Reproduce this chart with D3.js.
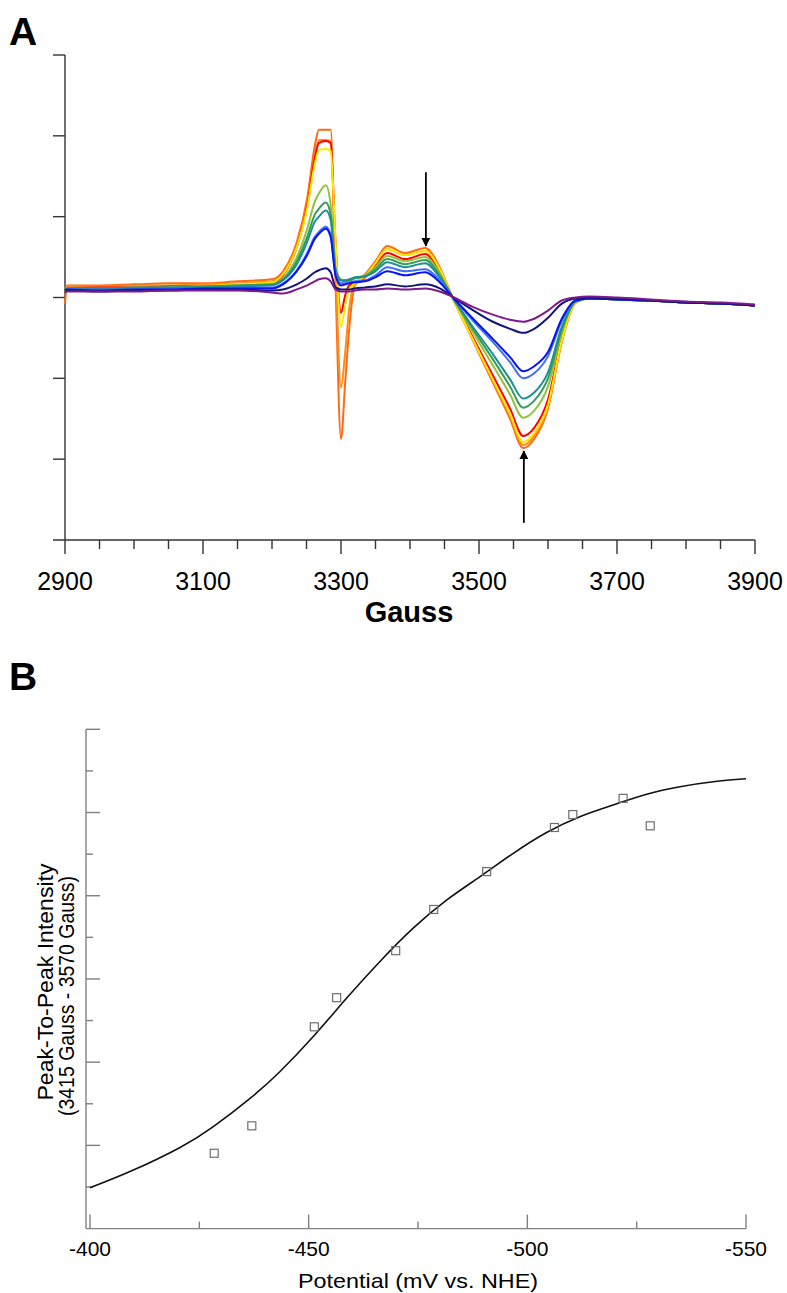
<!DOCTYPE html>
<html>
<head>
<meta charset="utf-8">
<script src="https://cdn.jsdelivr.net/npm/d3@7"></script>
<style>
  body { margin: 0; background: #fff; }
  svg { display: block; font-family: "Liberation Sans", Arial, sans-serif; }
</style>
</head>
<body>
<div id="chart"></div>
<script>
// ---- Panel A: EPR spectra (field in Gauss, intensity in arbitrary units) ----
const gauss = [2900, 2903, 2950, 3000, 3050, 3100, 3150, 3200, 3216, 3236, 3251, 3262, 3268, 3278, 3285, 3292,
    3300, 3306, 3312, 3320, 3335, 3350, 3367, 3393, 3422, 3443, 3461, 3490, 3520, 3545, 3564, 3580, 3600, 3620,
    3640, 3660, 3700, 3750, 3800, 3850, 3900];

const orange1 = [-6, 12, 12, 13, 14, 14, 16, 18, 26, 55, 98, 150, 166, 166, 166, 15, -140, -85, -30, 12, 23, 36, 51, 44, 49, 30, 1, -41, -84, -120, -149, -140, -110, -44, -5, 0, -2, -3, -5, -6, -8];
const orange2 = [8, 11, 11, 12, 12, 13, 14, 16, 24, 52, 92, 140, 156, 156, 155, 33, -89, -55, -10, 13, 22, 34, 48, 42, 46, 28, 1, -40, -82, -117, -146, -137, -108, -43, -5, -1, -2, -3, -5, -6, -8];
const red = [7, 9, 10, 10, 11, 11, 12, 13, 22, 50, 90, 138, 153, 155, 153, 55, -15, 2, 12, 14, 20, 32, 44, 38, 43, 26, 1, -38, -77, -110, -137, -129, -101, -40, -5, -1, -2, -3, -5, -6, -8];
const yellow = [6, 8, 7, 9, 10, 11, 13, 15, 23, 50, 88, 132, 146, 147, 145, 57, -29, -8, 8, 14, 21, 34, 48, 42, 46, 28, 1, -40, -81, -115, -143, -134, -106, -42, -5, -1, -2, -3, -5, -6, -8];
const yellowGreen = [8, 9, 9, 10, 10, 11, 12, 13, 19, 40, 68, 95, 103, 111, 92, 30, 18, 17, 17, 19, 22, 30, 41, 36, 40, 24, 1, -33, -67, -96, -119, -112, -88, -35, -4, -1, -2, -3, -5, -6, -8];
const green = [8, 9, 9, 10, 10, 11, 12, 13, 18, 36, 60, 82, 88, 94, 82, 28, 17, 16, 17, 19, 21, 28, 38, 33, 37, 22, 1, -30, -61, -88, -109, -102, -80, -32, -4, -1, -2, -3, -5, -6, -8];
const teal = [8, 9, 9, 9, 10, 10, 11, 12, 17, 33, 55, 75, 80, 86, 77, 27, 17, 17, 18, 20, 21, 26, 35, 30, 34, 20, 1, -28, -56, -81, -100, -94, -74, -29, -4, -1, -2, -3, -5, -6, -8];
const lightBlue = [7, 8, 8, 8, 9, 9, 10, 10, 14, 27, 44, 60, 65, 70, 62, 24, 14, 14, 15, 16, 17, 22, 30, 26, 28, 17, 1, -22, -44, -64, -80, -75, -58, -23, -3, -1, -2, -3, -5, -6, -8];
const blue = [7, 8, 7, 8, 8, 9, 9, 9, 13, 26, 42, 58, 63, 68, 60, 22, 12, 13, 14, 15, 16, 20, 26, 22, 25, 15, 1, -20, -41, -59, -73, -68, -54, -21, -3, -1, -2, -3, -5, -6, -8];
const navy = [6, 7, 6, 7, 7, 8, 8, 7, 8, 13, 19, 25, 27, 29, 25, 10, 8, 8, 8, 9, 10, 11, 13, 11, 13, 9, 1, -12, -24, -31, -35, -31, -20, -6, -1, 0, -1, -3, -5, -6, -8];
const purple = [5, 6, 6, 6, 7, 7, 7, 5, 4, 8, 12, 16, 18, 19, 16, 8, 6, 6, 6, 7, 8, 8, 9, 8, 9, 6, 1, -9, -17, -22, -24, -21, -13, -3, 0, 1, 0, -2, -4, -5, -7];

const gaussTicks = [2900, 3100, 3300, 3500, 3700, 3900];
// arrows: [field, start, tip]
const arrowDown = [3423, 124, 51];
const arrowUp = [3565, -223, -152];

// ---- Panel B: peak-to-peak intensity vs potential ----
const potential = [-428.4, -437.0, -451.3, -456.4, -469.9, -478.6, -490.7, -506.2, -510.4, -521.9, -528.1];
const intensity = [1.81, 2.47, 4.85, 5.55, 6.68, 7.67, 8.58, 9.64, 9.95, 10.34, 9.68];
const fitPotential = [-400.0, -409.8, -420.6, -428.2, -436.6, -443.4, -451.0, -458.7, -466.3, -473.9, -481.6,
    -489.2, -496.8, -504.4, -512.0, -519.6, -527.3, -534.9, -542.5, -550.0];
const fitIntensity = [0.98, 1.40, 1.95, 2.45, 3.13, 3.77, 4.61, 5.54, 6.42, 7.22, 7.90,
    8.46, 9.02, 9.52, 9.90, 10.18, 10.44, 10.62, 10.74, 10.81];
const potentialTicks = [-400, -450, -500, -550];

const traces = [
    { color: "#ff6a13", values: orange1 },
    { color: "#ff8c1a", values: orange2 },
    { color: "#ff0000", values: red },
    { color: "#ffea00", values: yellow },
    { color: "#8fc43a", values: yellowGreen },
    { color: "#379a5c", values: green },
    { color: "#1d9191", values: teal },
    { color: "#3d6dff", values: lightBlue },
    { color: "#0a14ee", values: blue },
    { color: "#14147f", values: navy },
    { color: "#7d1a8c", values: purple }
];

const svg = d3.select("#chart").append("svg")
    .attr("width", 787)
    .attr("height", 1293);

svg.append("defs").append("marker")
    .attr("id", "head")
    .attr("viewBox", "0 0 10 10")
    .attr("refX", 9).attr("refY", 5)
    .attr("markerWidth", 5).attr("markerHeight", 5)
    .attr("markerUnits", "strokeWidth")
    .attr("orient", "auto")
    .append("path")
    .attr("d", "M0,0 L10,5 L0,10 z")
    .attr("fill", "#000");

// ===== Panel A =====
const xA = d3.scaleLinear().domain([2900, 3900]).range([65, 755]);
const yA = d3.scaleLinear().domain([-240, 240]).range([540, 55]);

svg.append("text")
    .attr("x", 9).attr("y", 45)
    .attr("font-size", 39).attr("font-weight", "bold")
    .text("A");

const gA = svg.append("g");

// y axis: unlabeled ticks pointing left
gA.append("line")
    .attr("x1", 65).attr("x2", 65).attr("y1", yA(240)).attr("y2", yA(-240))
    .attr("stroke", "#333").attr("stroke-width", 1.4);
gA.selectAll(".ytick")
    .data(d3.range(-160, 241, 80))
    .join("line")
    .attr("x1", 53).attr("x2", 65)
    .attr("y1", d => yA(d)).attr("y2", d => yA(d))
    .attr("stroke", "#333").attr("stroke-width", 1.4);

// x axis with minor ticks every 50 G
gA.append("line")
    .attr("x1", 53).attr("x2", xA(3900)).attr("y1", 540).attr("y2", 540)
    .attr("stroke", "#333").attr("stroke-width", 1.4);
gA.selectAll(".xtick")
    .data(d3.range(2900, 3901, 50))
    .join("line")
    .attr("x1", d => xA(d)).attr("x2", d => xA(d))
    .attr("y1", 540).attr("y2", d => gaussTicks.includes(d) ? 554 : 549)
    .attr("stroke", "#333").attr("stroke-width", 1.4);
gA.selectAll(".xlabel")
    .data(gaussTicks)
    .join("text")
    .attr("x", d => xA(d)).attr("y", 590)
    .attr("text-anchor", "middle")
    .attr("font-size", 25)
    .text(d => d);
gA.append("text")
    .attr("x", 409).attr("y", 622)
    .attr("text-anchor", "middle")
    .attr("font-size", 29).attr("font-weight", "bold")
    .text("Gauss");

const lineA = d3.line()
    .x((d, i) => xA(gauss[i]))
    .y(d => yA(d))
    .curve(d3.curveMonotoneX);

gA.selectAll(".trace")
    .data(traces)
    .join("path")
    .attr("d", d => lineA(d.values))
    .attr("fill", "none")
    .attr("stroke", d => d.color)
    .attr("stroke-width", 2)
    .attr("stroke-linejoin", "round");

// arrows marking the two measured fields
[arrowDown, arrowUp].forEach(a => {
    gA.append("line")
        .attr("x1", xA(a[0])).attr("x2", xA(a[0]))
        .attr("y1", yA(a[1])).attr("y2", yA(a[2]))
        .attr("stroke", "#000").attr("stroke-width", 1.8)
        .attr("marker-end", "url(#head)");
});

// ===== Panel B =====
const xB = d3.scaleLinear().domain([-400, -550]).range([90, 746]);
const yB = d3.scaleLinear().domain([0, 12]).range([1228.6, 729.3]);

svg.append("text")
    .attr("x", 9).attr("y", 690)
    .attr("font-size", 39).attr("font-weight", "bold")
    .text("B");

const gB = svg.append("g");
const axisGrey = "#808080";

gB.append("line")
    .attr("x1", 86).attr("x2", 86).attr("y1", yB(12)).attr("y2", yB(0))
    .attr("stroke", axisGrey).attr("stroke-width", 1.4);
gB.selectAll(".ytickB")
    .data(d3.range(1, 13))
    .join("line")
    .attr("x1", 86).attr("x2", d => d % 2 === 0 ? 100 : 93)
    .attr("y1", d => yB(d)).attr("y2", d => yB(d))
    .attr("stroke", axisGrey).attr("stroke-width", 1.4);

gB.append("line")
    .attr("x1", 86).attr("x2", xB(-550)).attr("y1", yB(0)).attr("y2", yB(0))
    .attr("stroke", axisGrey).attr("stroke-width", 1.4);
gB.selectAll(".xtickB")
    .data(d3.range(-400, -551, -25))
    .join("line")
    .attr("x1", d => xB(d)).attr("x2", d => xB(d))
    .attr("y1", yB(0)).attr("y2", d => d % 50 === 0 ? yB(0) - 14 : yB(0) - 7)
    .attr("stroke", axisGrey).attr("stroke-width", 1.4);
gB.selectAll(".xlabelB")
    .data(potentialTicks)
    .join("text")
    .attr("x", d => xB(d)).attr("y", 1256)
    .attr("text-anchor", "middle")
    .attr("font-size", 21)
    .text(d => d);
gB.append("text")
    .attr("x", 418).attr("y", 1288)
    .attr("text-anchor", "middle")
    .attr("font-size", 21)
    .attr("textLength", 240).attr("lengthAdjust", "spacingAndGlyphs")
    .text("Potential (mV vs. NHE)");

gB.append("text")
    .attr("transform", "translate(53,982) rotate(-90)")
    .attr("text-anchor", "middle")
    .attr("font-size", 22)
    .attr("textLength", 237).attr("lengthAdjust", "spacingAndGlyphs")
    .text("Peak-To-Peak Intensity");
gB.append("text")
    .attr("transform", "translate(74,996) rotate(-90)")
    .attr("text-anchor", "middle")
    .attr("font-size", 22)
    .attr("textLength", 240).attr("lengthAdjust", "spacingAndGlyphs")
    .text("(3415 Gauss - 3570 Gauss)");

const fitLine = d3.line()
    .x((d, i) => xB(fitPotential[i]))
    .y(d => yB(d))
    .curve(d3.curveNatural);

gB.append("path")
    .attr("d", fitLine(fitIntensity))
    .attr("fill", "none")
    .attr("stroke", "#111")
    .attr("stroke-width", 1.6);

gB.selectAll(".pt")
    .data(intensity)
    .join("rect")
    .attr("x", (d, i) => xB(potential[i]) - 4)
    .attr("y", d => yB(d) - 4)
    .attr("width", 8).attr("height", 8)
    .attr("fill", "none")
    .attr("stroke", "#6e6e6e")
    .attr("stroke-width", 1.2);
</script>
</body>
</html>
